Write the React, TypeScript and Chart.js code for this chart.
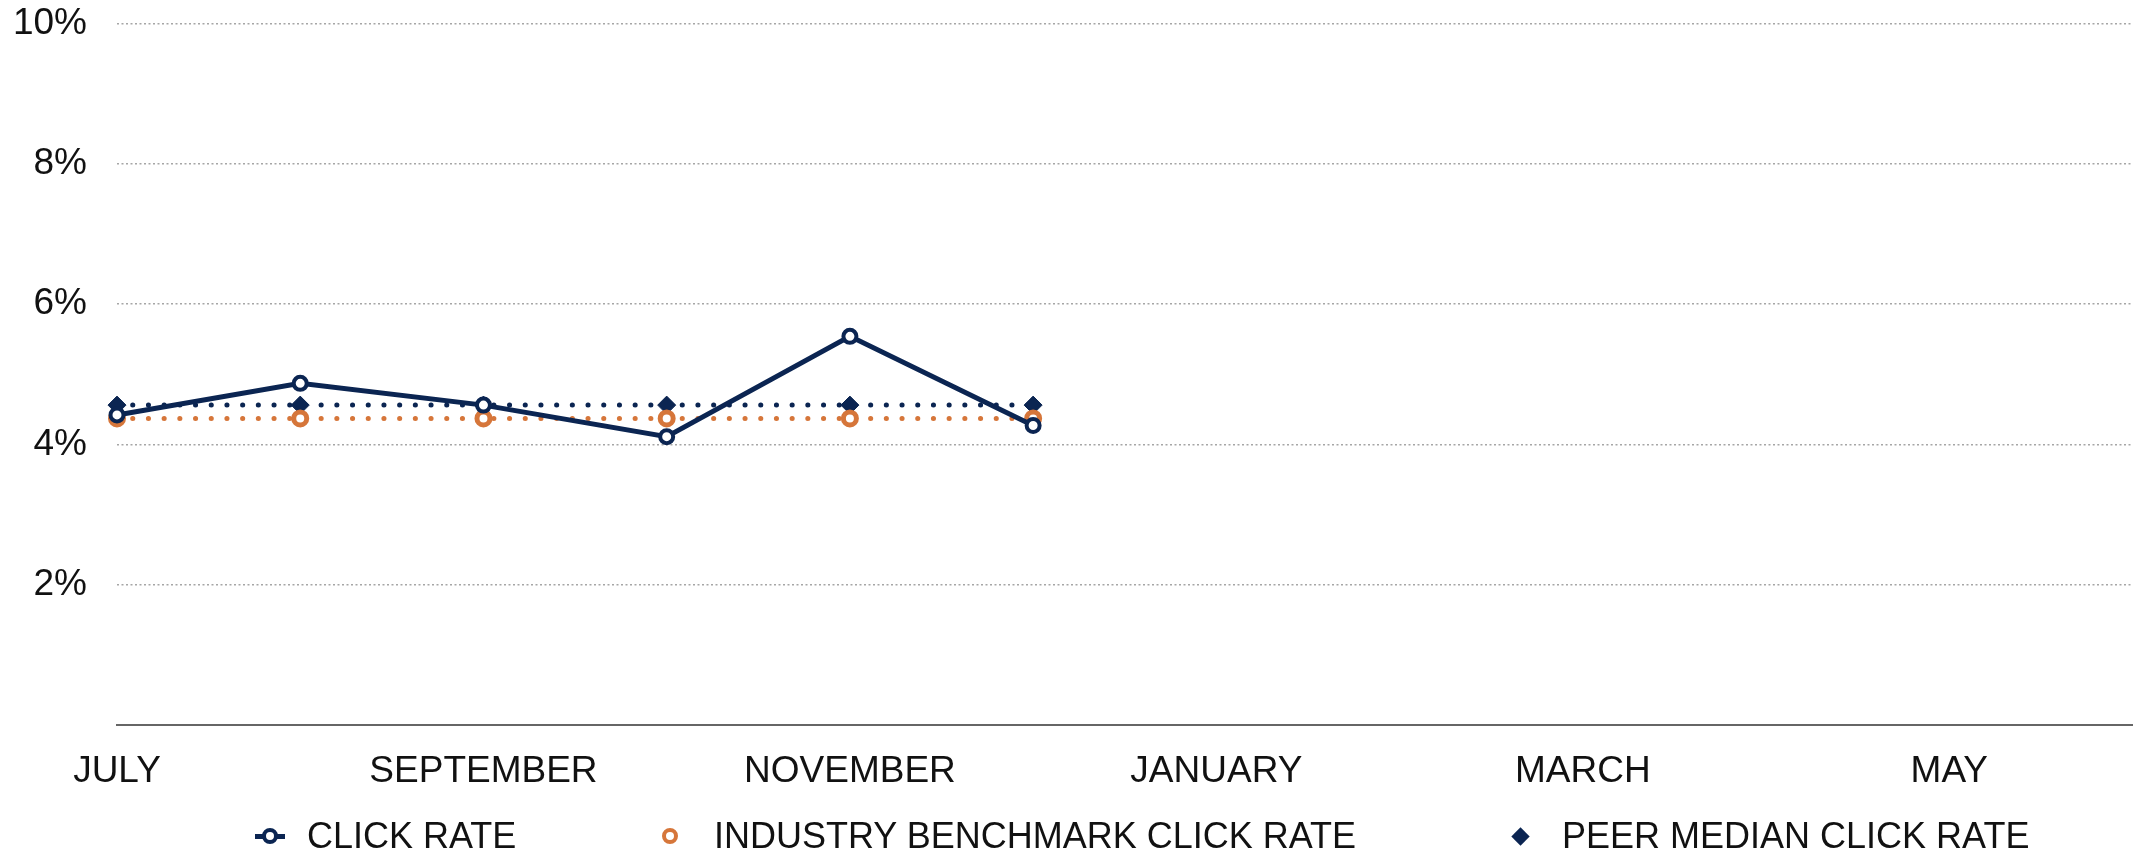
import React, { useEffect, useRef } from 'react';
import { Chart, registerables } from 'chart.js';

Chart.register(...registerables);

const months = ['JULY', 'AUGUST', 'SEPTEMBER', 'OCTOBER', 'NOVEMBER', 'DECEMBER', 'JANUARY', 'FEBRUARY', 'MARCH', 'APRIL', 'MAY', 'JUNE'];
const clickRate = [4.42, 4.87, 4.56, 4.11, 5.54, 4.27, null, null, null, null, null, null];
const industryBenchmark = [4.37, 4.37, 4.37, 4.37, 4.37, 4.37, null, null, null, null, null, null];
const peerMedian = [4.56, 4.56, 4.56, 4.56, 4.56, 4.56, null, null, null, null, null, null];
const seriesNames = ['CLICK RATE', 'INDUSTRY BENCHMARK CLICK RATE', 'PEER MEDIAN CLICK RATE'];
const yMin = 0;
const yMax = 10;
const yStep = 2;

const NAVY = '#0b2552';
const ORANGE = '#d6763a';
const FONT = '"Helvetica Neue", Helvetica, Arial, "Liberation Sans", sans-serif';
const TICK_FONT_SIZE = 37;
const LEGEND_FONT_SIZE = 36;

export default function App() {
  const canvasRef = useRef<HTMLCanvasElement | null>(null);

  useEffect(() => {
    if (!canvasRef.current) return;
    const chart = new Chart(canvasRef.current, {
      type: 'line',
      data: {
        labels: months,
        datasets: [
          {
            label: seriesNames[0],
            data: clickRate,
            borderColor: NAVY,
            borderWidth: 5,
            pointStyle: 'circle',
            pointRadius: 6.5,
            pointBorderWidth: 4,
            pointBackgroundColor: '#ffffff',
            pointBorderColor: NAVY,
            tension: 0,
          },
          {
            label: seriesNames[1],
            data: industryBenchmark,
            borderColor: ORANGE,
            borderWidth: 5,
            borderDash: [0.1, 15.6],
            borderCapStyle: 'round',
            pointStyle: 'circle',
            pointRadius: 6.5,
            pointBorderWidth: 5,
            pointBackgroundColor: '#ffffff',
            pointBorderColor: ORANGE,
            tension: 0,
          },
          {
            label: seriesNames[2],
            data: peerMedian,
            borderColor: NAVY,
            borderWidth: 5,
            borderDash: [0.1, 15.6],
            borderCapStyle: 'round',
            pointStyle: 'rectRot',
            pointRadius: 9,
            pointBorderWidth: 1,
            pointBackgroundColor: NAVY,
            pointBorderColor: NAVY,
            tension: 0,
          },
        ],
      },
      options: {
        animation: false,
        responsive: false,
        maintainAspectRatio: false,
        layout: { padding: { top: 23.5, right: 11, left: 0, bottom: 0 } },
        plugins: {
          legend: { display: false },
          tooltip: { enabled: false },
        },
        scales: {
          x: {
            offset: false,
            grid: { display: false, drawTicks: false },
            border: { display: true, color: '#666666', width: 2 },
            ticks: {
              autoSkip: false,
              maxRotation: 0,
              minRotation: 0,
              padding: 25,
              color: '#111111',
              font: { family: FONT, size: TICK_FONT_SIZE },
              callback: (_v: any, i: number) => (i % 2 === 0 ? months[i] : ''),
            },
            afterFit: (s: any) => {
              s.height = 131;
              s.paddingLeft = 0;
              s.paddingRight = 0;
            },
          },
          y: {
            min: yMin,
            max: yMax,
            grid: { color: '#a6a6a6', lineWidth: 1.5, drawTicks: false },
            border: { display: false, dash: [2, 2.5] },
            ticks: {
              stepSize: yStep,
              padding: 30,
              color: '#111111',
              font: { family: FONT, size: TICK_FONT_SIZE },
              callback: (v: any) => (Number(v) === 0 ? '' : `${v}%`),
            },
            afterFit: (s: any) => {
              s.width = 117;
              s.paddingTop = 0;
              s.paddingBottom = 0;
            },
          },
        },
      },
    });
    return () => chart.destroy();
  }, []);

  const textStyle: React.CSSProperties = {
    position: 'absolute',
    top: 836,
    transform: 'translateY(-50%)',
    fontFamily: FONT,
    fontSize: LEGEND_FONT_SIZE,
    color: '#111111',
    whiteSpace: 'nowrap',
    lineHeight: 1,
  };

  return (
    <div style={{ position: 'relative', width: 2144, height: 856, background: '#fff', overflow: 'hidden' }}>
      <style>{'html,body{margin:0;padding:0;background:#fff}'}</style>
      <canvas ref={canvasRef} width={2144} height={856} style={{ display: 'block' }} />
      {/* legend */}
      <div style={{ position: 'absolute', left: 255, top: 834, width: 30, height: 4.5, background: NAVY }} />
      <div
        style={{
          position: 'absolute', left: 270 - 8, top: 836 - 8, width: 16, height: 16, boxSizing: 'border-box',
          borderRadius: '50%', border: `4px solid ${NAVY}`, background: '#fff',
        }}
      />
      <div style={{ ...textStyle, left: 307 }}>{seriesNames[0]}</div>
      <div
        style={{
          position: 'absolute', left: 670 - 8, top: 836 - 8, width: 16, height: 16, boxSizing: 'border-box',
          borderRadius: '50%', border: `4.5px solid ${ORANGE}`, background: '#fff',
        }}
      />
      <div style={{ ...textStyle, left: 714 }}>{seriesNames[1]}</div>
      <div
        style={{
          position: 'absolute', left: 1520 - 6.5, top: 836 - 6.5, width: 13, height: 13,
          background: NAVY, transform: 'rotate(45deg)',
        }}
      />
      <div style={{ ...textStyle, left: 1562 }}>{seriesNames[2]}</div>
    </div>
  );
}
